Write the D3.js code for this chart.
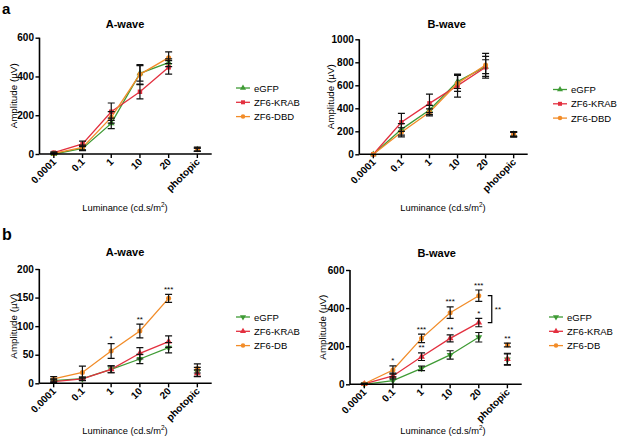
<!DOCTYPE html>
<html><head><meta charset="utf-8">
<script src="https://cdn.jsdelivr.net/npm/d3@7/dist/d3.min.js"></script>
<style>body{margin:0;background:#fff;} svg{display:block;font-family:"Liberation Sans",Arial,sans-serif;}</style>
</head><body>
<svg id="c" width="617" height="439"></svg>
<script>
// ---------- DATA ----------
const categories = ["0.0001", "0.1", "1", "10", "20", "photopic"];
const seriesNamesA = ["eGFP", "ZF6-KRAB", "ZF6-DBD"];
const seriesNamesB = ["eGFP", "ZF6-KRAB", "ZF6-DB"];

// panel a, A-wave
const aA_eGFP = [0, 29, 158, 416, 471, 22];
const aA_eGFP_err = [3, 12, 27, 40, 20, 8];
const aA_KRAB = [7, 52, 218, 321, 447, 25];
const aA_KRAB_err = [4, 14, 45, 37, 35, 10];
const aA_DBD = [3, 34, 189, 411, 497, 22];
const aA_DBD_err = [3, 12, 30, 50, 30, 8];
const aA_ticks = [0, 200, 400, 600];

// panel a, B-wave
const aB_eGFP = [0, 217, 385, 632, 762, 174];
const aB_eGFP_err = [0, 50, 40, 60, 60, 20];
const aB_KRAB = [0, 278, 443, 597, 757, 178];
const aB_KRAB_err = [0, 78, 80, 100, 95, 20];
const aB_DBD = [0, 191, 365, 617, 777, 170];
const aB_DBD_err = [0, 40, 30, 70, 100, 20];
const aB_ticks = [0, 200, 400, 600, 800, 1000];

// panel b, A-wave
const bA_eGFP = [4.7, 8, 24.5, 42.5, 62.4, 20];
const bA_eGFP_err = [3, 3, 6, 8, 9, 8];
const bA_KRAB = [3, 7.6, 24.5, 52.5, 73, 17.5];
const bA_KRAB_err = [3, 3, 6, 10, 10, 6];
const bA_DB = [7.6, 19, 56.5, 91.5, 148.7, 26];
const bA_DB_err = [4, 11, 13, 12, 7, 8];
const bA_DB_sig = ["", "", "*", "**", "***", ""];
const bA_ticks = [0, 50, 100, 150, 200];

// panel b, B-wave
const bB_eGFP = [0, 19, 84, 154, 247, 130];
const bB_eGFP_err = [2, 20, 12, 22, 25, 30];
const bB_KRAB = [2, 44, 145, 241, 324, 133];
const bB_KRAB_err = [2, 15, 20, 18, 22, 30];
const bB_DB = [3, 75, 241, 376, 465, 206];
const bB_DB_err = [3, 22, 22, 30, 30, 10];
const bB_DB_sig = ["", "*", "***", "***", "***", "**"];
const bB_KRAB_sig = ["", "", "**", "**", "*", ""];
const bB_bracket_sig = "**";
const bB_ticks = [0, 200, 400, 600];

// ---------- STYLE ----------
const colors = {green: "#3f9b35", red: "#e3303f", orange: "#f28c28"};
const svg = d3.select("#c");

function marker(g, shape, x, y, color, s) {
  const sym = {tri: d3.symbolTriangle, sq: d3.symbolSquare, circ: d3.symbolCircle};
  const type = sym[shape === "tridown" ? "tri" : shape];
  return g.append("path").attr("d", d3.symbol().type(type).size(s)())
    .attr("fill", color)
    .attr("transform", `translate(${x},${y})` + (shape === "tridown" ? " rotate(180)" : ""));
}

function panel(cfg) {
  const g = svg.append("g");
  const x = d3.scaleBand().domain(categories).range([cfg.x0, cfg.x1]).padding(0);
  const y = d3.scaleLinear().domain([0, cfg.ymax]).range([cfg.yb, cfg.yt]);
  const cx = c => x(c) + x.bandwidth() / 2;

  // title
  g.append("text").attr("x", cfg.tx).attr("y", cfg.ty).attr("text-anchor", "middle")
    .attr("font-weight", "bold").attr("font-size", 11).text(cfg.title);

  // series lines (photopic not connected)
  cfg.series.forEach(s => {
    const pts = categories.slice(0, 5).map((c, i) => [cx(c), y(s.vals[i])]);
    g.append("path").attr("d", d3.line()(pts)).attr("fill", "none")
      .attr("stroke", s.color).attr("stroke-width", 1.3);
  });
  cfg.series.forEach(s => {
    categories.forEach((c, i) => marker(g, s.shape, cx(c), y(s.vals[i]), s.color, 20));
  });
  cfg.series.forEach(s => {
    categories.forEach((c, i) => {
      const e = s.err[i]; if (!e) return;
      const xc = cx(c), y1 = y(s.vals[i] + e), y2 = y(Math.max(0, s.vals[i] - e));
      g.append("path").attr("d", `M${xc},${y1}V${y2}M${xc-3.5},${y1}H${xc+3.5}M${xc-3.5},${y2}H${xc+3.5}`)
        .attr("stroke", "#111").attr("stroke-width", 1.2).attr("fill", "none");
    });
    if (s.sig) {
      categories.forEach((c, i) => {
        if (!s.sig[i]) return;
        g.append("text").attr("x", cx(c)).attr("y", y(s.vals[i] + s.err[i]) - 2.5)
          .attr("text-anchor", "middle").attr("font-size", 8).text(s.sig[i]);
      });
    }
  });

  // axes
  const ya = d3.axisLeft(y).tickValues(cfg.ticks).tickSize(4).tickPadding(1.5).tickFormat(d3.format("d"));
  const yg = g.append("g").attr("transform", `translate(${cfg.x0},0)`).call(ya);
  const xa = d3.axisBottom(x).tickSize(4).tickFormat("");
  const xg = g.append("g").attr("transform", `translate(0,${cfg.yb})`).call(xa);
  [yg, xg].forEach(a => {
    a.select(".domain").attr("stroke", "#000").attr("stroke-width", 1.6);
    a.selectAll(".tick line").attr("stroke", "#000").attr("stroke-width", 1.4);
    a.selectAll("text").attr("font-size", 10).attr("font-weight", "bold")
      .attr("font-family", "Liberation Sans, Arial, sans-serif").attr("fill", "#000");
  });
  yg.select(".domain").attr("d", `M0,${cfg.yt}V${cfg.yb}`);
  xg.select(".domain").attr("d", `M${cfg.x0},0H${cfg.x1}`);
  categories.forEach(c => {
    g.append("text").attr("transform", `translate(${cx(c) + 3},${cfg.yb + 8.5}) rotate(-45)`)
      .attr("text-anchor", "end").attr("font-size", 10).attr("font-weight", "bold").text(c);
  });

  // axis titles
  g.append("text").attr("transform", `translate(${cfg.ylx},${(cfg.yt + cfg.yb) / 2}) rotate(-90)`)
    .attr("text-anchor", "middle").attr("font-size", 9.8).text("Amplitude (µV)");
  const xl = g.append("text").attr("x", cfg.xlx).attr("y", cfg.xly).attr("text-anchor", "middle")
    .attr("font-size", 9.3);
  xl.append("tspan").text("Luminance (cd.s/m");
  xl.append("tspan").attr("font-size", 6.5).attr("dy", -4).text("2");
  xl.append("tspan").attr("dy", 4).text(")");

  // legend
  cfg.series.forEach((s, i) => {
    const ly = cfg.ly + i * 14.3;
    g.append("line").attr("x1", cfg.lx).attr("x2", cfg.lx + 14).attr("y1", ly).attr("y2", ly)
      .attr("stroke", s.color).attr("stroke-width", 1.3);
    marker(g, s.shape, cfg.lx + 7, ly, s.color, 16);
    g.append("text").attr("x", cfg.lx + 18).attr("y", ly + 3.5).attr("font-size", 9.5).text(s.name);
  });

  if (cfg.bracket) {
    const b = cfg.bracket;
    const xb = cx(categories[4]) + 13;
    const yA = y(b.top), yB = y(b.bottom);
    g.append("path").attr("d", `M${xb-4},${yA}H${xb}V${yB}H${xb-4}`)
      .attr("stroke", "#000").attr("stroke-width", 1.2).attr("fill", "none");
    g.append("text").attr("x", xb + 3).attr("y", (yA + yB) / 2 + 3).attr("font-size", 8).text(b.text);
  }
}

panel({title: "A-wave", x0: 39.5, x1: 211.7, yt: 37.7, yb: 154, ymax: 600, ticks: aA_ticks,
  tx: 125, ty: 28, ylx: 16.5, xlx: 125, xly: 211, lx: 236, ly: 88,
  series: [
    {name: seriesNamesA[0], vals: aA_eGFP, err: aA_eGFP_err, color: colors.green, shape: "tri"},
    {name: seriesNamesA[1], vals: aA_KRAB, err: aA_KRAB_err, color: colors.red, shape: "sq"},
    {name: seriesNamesA[2], vals: aA_DBD, err: aA_DBD_err, color: colors.orange, shape: "circ"}]});

panel({title: "B-wave", x0: 359.3, x1: 527.7, yt: 39.3, yb: 154.3, ymax: 1000, ticks: aB_ticks,
  tx: 446.7, ty: 28, ylx: 333.5, xlx: 443, xly: 211, lx: 553, ly: 89.5,
  series: [
    {name: seriesNamesA[0], vals: aB_eGFP, err: aB_eGFP_err, color: colors.green, shape: "tri"},
    {name: seriesNamesA[1], vals: aB_KRAB, err: aB_KRAB_err, color: colors.red, shape: "sq"},
    {name: seriesNamesA[2], vals: aB_DBD, err: aB_DBD_err, color: colors.orange, shape: "circ"}]});

panel({title: "A-wave", x0: 39.3, x1: 211.7, yt: 269, yb: 383.3, ymax: 200, ticks: bA_ticks,
  tx: 125, ty: 256, ylx: 17, xlx: 125, xly: 434, lx: 236, ly: 317,
  series: [
    {name: seriesNamesB[0], vals: bA_eGFP, err: bA_eGFP_err, color: colors.green, shape: "tridown"},
    {name: seriesNamesB[1], vals: bA_KRAB, err: bA_KRAB_err, color: colors.red, shape: "tri"},
    {name: seriesNamesB[2], vals: bA_DB, err: bA_DB_err, color: colors.orange, shape: "circ", sig: bA_DB_sig}]});

panel({title: "B-wave", x0: 350, x1: 521.7, yt: 270, yb: 384.3, ymax: 600, ticks: bB_ticks,
  tx: 436.7, ty: 257, ylx: 326, xlx: 443, xly: 434, lx: 549, ly: 317,
  bracket: {top: bB_DB[4], bottom: bB_KRAB[4], text: bB_bracket_sig},
  series: [
    {name: seriesNamesB[0], vals: bB_eGFP, err: bB_eGFP_err, color: colors.green, shape: "tridown"},
    {name: seriesNamesB[1], vals: bB_KRAB, err: bB_KRAB_err, color: colors.red, shape: "tri", sig: bB_KRAB_sig},
    {name: seriesNamesB[2], vals: bB_DB, err: bB_DB_err, color: colors.orange, shape: "circ", sig: bB_DB_sig}]});

svg.append("text").attr("x", 2).attr("y", 14).attr("font-size", 15).attr("font-weight", "bold").text("a");
svg.append("text").attr("x", 2).attr("y", 240).attr("font-size", 16).attr("font-weight", "bold").text("b");
</script>
</body></html>
